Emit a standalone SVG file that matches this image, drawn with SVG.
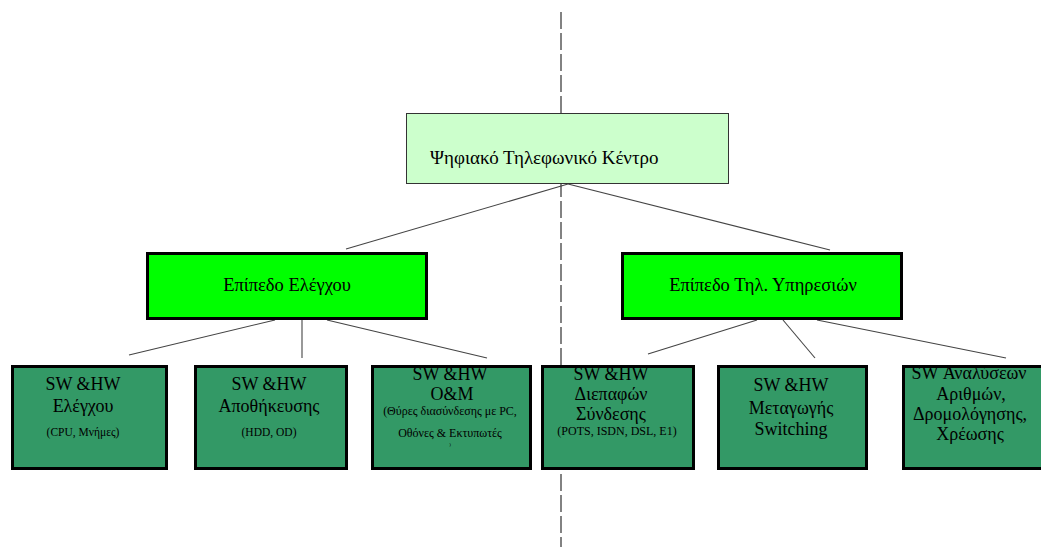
<svg xmlns="http://www.w3.org/2000/svg" width="1041" height="547" viewBox="0 0 1041 547">
  <style>
    text { font-family: "Liberation Serif", "DejaVu Serif", serif; fill: #000; }
    .t19 { font-size: 19px; }
    .t18 { font-size: 18px; }
    .tl { font-size: 18.5px; }
    .t12 { font-size: 12px; }
    .mid { text-anchor: middle; }
    .root { fill: #ccffcc; stroke: #333; stroke-width: 1; }
    .lvl { fill: #00ff00; stroke: #000; stroke-width: 3; }
    .leaf { fill: #339966; stroke: #000; stroke-width: 3; }
    .conn line { stroke: #444; stroke-width: 1.1; }
    .axis { stroke: #5a5a5a; stroke-width: 1.5; stroke-dasharray: 17 4; }
  </style>
  <rect width="1041" height="547" fill="#fff"/>

  <!-- central dashed axis, drawn behind the boxes -->
  <line class="axis" x1="561" y1="12" x2="561" y2="547"/>

  <g id="connectors" class="conn">
    <line x1="568" y1="184" x2="346" y2="249"/>
    <line x1="568" y1="184" x2="830" y2="250"/>
    <line x1="275" y1="320" x2="129" y2="355"/>
    <line x1="302" y1="320" x2="302" y2="358"/>
    <line x1="327" y1="320" x2="487" y2="358"/>
    <line x1="757" y1="320" x2="648" y2="354"/>
    <line x1="783" y1="320" x2="815" y2="358"/>
    <line x1="817" y1="320" x2="1006" y2="358"/>
  </g>

  <g id="center">
    <rect class="root" x="406.5" y="113.5" width="322" height="70"/>
    <text class="t19" x="430" y="164">Ψηφιακό Τηλεφωνικό Κέντρο</text>
  </g>

  <g id="control-plane">
    <rect class="lvl" x="147.5" y="253.5" width="279" height="65"/>
    <text class="tl mid" x="287" y="291">Επίπεδο Ελέγχου</text>
  </g>

  <g id="service-plane">
    <rect class="lvl" x="622.5" y="253.5" width="279" height="65"/>
    <text class="tl mid" x="763" y="291">Επίπεδο Τηλ. Υπηρεσιών</text>
  </g>

  <g id="control-hw">
    <rect class="leaf" x="12.5" y="366.5" width="154" height="102"/>
    <text class="t18 mid" x="83" y="390">SW &amp;HW</text>
    <text class="t18 mid" x="83" y="412">Ελέγχου</text>
    <text class="mid" x="83" y="436" font-size="11.5">(CPU, Μνήμες)</text>
  </g>

  <g id="storage-hw">
    <rect class="leaf" x="195.5" y="366.5" width="151" height="102"/>
    <text class="t18 mid" x="269" y="390">SW &amp;HW</text>
    <text class="t18 mid" x="269" y="412">Αποθήκευσης</text>
    <text class="mid" x="269" y="436" font-size="11.5">(HDD, OD)</text>
  </g>

  <g id="om-hw">
    <rect class="leaf" x="372.5" y="366.5" width="158" height="102"/>
    <text class="t18 mid" x="450" y="380">SW &amp;HW</text>
    <text class="t18 mid" x="452" y="400">O&amp;M</text>
    <text class="t12 mid" x="450" y="415">(Θύρες διασύνδεσης με PC,</text>
    <text class="t12 mid" x="450" y="437">Οθόνες &amp; Εκτυπωτές</text>
    <text class="mid" x="450" y="446" font-size="5">)</text>
  </g>

  <g id="interface-hw">
    <rect class="leaf" x="542.5" y="366.5" width="151" height="102"/>
    <text class="t18 mid" x="611" y="380">SW &amp;HW</text>
    <text class="t18 mid" x="611" y="400">Διεπαφών</text>
    <text class="t18 mid" x="611" y="420">Σύνδεσης</text>
    <text class="t12 mid" x="617" y="435">(POTS, ISDN, DSL, E1)</text>
  </g>

  <g id="switching-hw">
    <rect class="leaf" x="718.5" y="366.5" width="148" height="102"/>
    <text class="t18 mid" x="791" y="391">SW &amp;HW</text>
    <text class="t18 mid" x="791" y="414">Μεταγωγής</text>
    <text class="t18 mid" x="791" y="435">Switching</text>
  </g>

  <g id="analysis-sw">
    <rect class="leaf" x="903.5" y="366.5" width="142" height="102"/>
    <text class="t18 mid" x="969" y="379">SW Αναλύσεων</text>
    <text class="t18 mid" x="971" y="400">Αριθμών,</text>
    <text class="t18 mid" x="970" y="420">Δρομολόγησης,</text>
    <text class="t18 mid" x="970" y="440">Χρέωσης</text>
  </g>
</svg>
